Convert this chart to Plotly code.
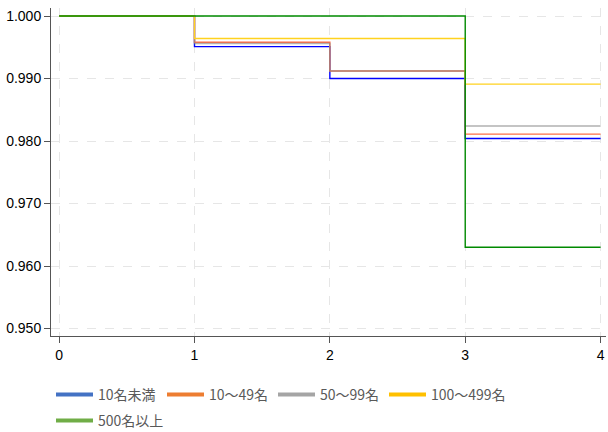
import plotly.graph_objects as go

# Years since start
years = [0, 1, 2, 3, 4]

# Survival rate by company size
group_names = ["10名未満", "10～49名", "50～99名", "100～499名", "500名以上"]
surv_lt10 = [1.000, 0.9951, 0.9900, 0.9804, 0.9804]
surv_10_49 = [1.000, 0.9958, 0.9912, 0.9811, 0.9811]
surv_50_99 = [1.000, 0.9956, 0.9912, 0.9824, 0.9824]
surv_100_499 = [1.000, 0.9964, 0.9964, 0.9891, 0.9891]
surv_500 = [1.000, 1.000, 1.000, 0.9630, 0.9630]
series = [surv_lt10, surv_10_49, surv_50_99, surv_100_499, surv_500]

# Step-line colours / opacities and legend swatch colours
line_colors = ["#0000FF", "#FF6E45", "#888888", "#FFD21F", "#008A00"]
line_opacity = [1.0, 1.0, 0.65, 1.0, 1.0]
legend_colors = ["#4472C4", "#ED7D31", "#A5A5A5", "#FFC000", "#70AD47"]
# first four entries on the top legend row, the last one on a second row
legend_rows = ["legend", "legend", "legend", "legend", "legend2"]
legend_entry_px = [59, 59, 59, 90, 90]

y_ticks = [0.950, 0.960, 0.970, 0.980, 0.990, 1.000]
x_ticks = [0, 1, 2, 3, 4]

fig = go.Figure()

for name, vals, col, op in zip(group_names, series, line_colors, line_opacity):
    fig.add_trace(go.Scatter(
        x=years, y=vals, mode="lines", line=dict(color=col, width=1.4, shape="hv"),
        opacity=op, showlegend=False, hoverinfo="skip",
    ))

for name, col, lg, ew in zip(group_names, legend_colors, legend_rows, legend_entry_px):
    fig.add_trace(go.Scatter(
        x=[None], y=[None], mode="lines", name=name, legend=lg, legendwidth=ew,
        line=dict(color=col, width=4),
    ))

legend_style = dict(
    orientation="h", x=0.0, xanchor="left", yanchor="top", yref="container",
    font=dict(family="Noto Sans CJK JP", size=14, color="#595959"),
    itemwidth=37, entrywidthmode="pixels", tracegroupgap=0,
    bgcolor="rgba(0,0,0,0)",
)

fig.update_layout(
    width=608, height=432,
    margin=dict(l=51, r=2, t=8, b=96),
    paper_bgcolor="white", plot_bgcolor="white",
    font=dict(family="Liberation Sans, Arial, sans-serif", size=14, color="black"),
    showlegend=True,
    legend=dict(y=0.1227, **legend_style),
    legend2=dict(y=0.0625, **legend_style),
)

fig.update_xaxes(
    range=[-0.06, 4.04], tickvals=x_ticks, ticktext=[str(t) for t in x_ticks],
    showline=True, linecolor="#555555", linewidth=1,
    ticks="outside", ticklen=6, tickcolor="#555555",
    showgrid=True, gridcolor="#E6E6E6", griddash="dash", gridwidth=1,
    zeroline=False, mirror=False,
)
fig.update_yaxes(
    range=[0.9488, 1.00128], tickvals=y_ticks,
    ticktext=[f"{t:.3f}" for t in y_ticks],
    showline=True, linecolor="#555555", linewidth=1,
    ticks="outside", ticklen=6, tickcolor="#555555",
    showgrid=True, gridcolor="#E6E6E6", griddash="dash", gridwidth=1,
    zeroline=False, mirror=False,
)

fig.write_html("out.html")
